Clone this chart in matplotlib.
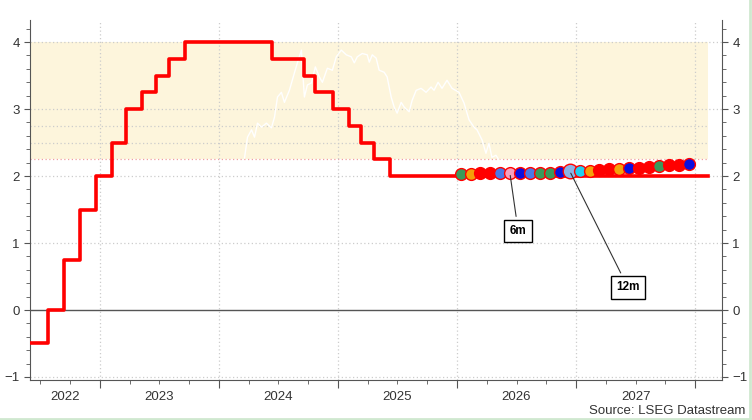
import numpy as np
import pandas as pd
import matplotlib
matplotlib.use("Agg")
import matplotlib.pyplot as plt
from matplotlib.ticker import MultipleLocator, FixedLocator, NullFormatter
from matplotlib.lines import Line2D

plt.rcParams['font.family'] = ['Liberation Sans', 'DejaVu Sans']

# ECB deposit rate decisions
rate_dates = ["2022-05-31", "2022-07-27", "2022-09-14", "2022-11-02", "2022-12-21",
              "2023-02-08", "2023-03-22", "2023-05-10", "2023-06-21", "2023-08-02",
              "2023-09-20", "2024-06-12", "2024-09-18", "2024-10-23", "2024-12-18",
              "2025-02-05", "2025-03-12", "2025-04-23", "2025-06-11", "2028-02-10"]
rate_values = [-0.5, 0.0, 0.75, 1.5, 2.0, 2.5, 3.0, 3.25, 3.5, 3.75,
               4.0, 3.75, 3.5, 3.25, 3.0, 2.75, 2.5, 2.25, 2.0, 2.0]

# thin white market series (decimal years)
mkt_x = [2024.215, 2024.240, 2024.274, 2024.299, 2024.324, 2024.358, 2024.399, 2024.441,
         2024.467, 2024.492, 2024.525, 2024.550, 2024.592, 2024.634, 2024.659, 2024.693,
         2024.701, 2024.718, 2024.743, 2024.777, 2024.810, 2024.844, 2024.869, 2024.911,
         2024.953, 2024.986, 2025.028, 2025.070, 2025.112, 2025.137, 2025.162, 2025.204,
         2025.246, 2025.263, 2025.288, 2025.321, 2025.346, 2025.388, 2025.413, 2025.447,
         2025.472, 2025.497, 2025.531, 2025.556, 2025.598, 2025.623, 2025.657, 2025.698,
         2025.740, 2025.782, 2025.807, 2025.841, 2025.874, 2025.916, 2025.958, 2026.017,
         2026.059, 2026.101, 2026.143, 2026.168, 2026.210, 2026.243, 2026.268, 2026.293,
         2026.327, 2026.352, 2026.436, 2026.562, 2026.730, 2026.897, 2027.106, 2027.232,
         2027.316]
mkt_y = [2.27, 2.58, 2.69, 2.58, 2.79, 2.73, 2.79, 2.72,
         2.88, 3.18, 3.25, 3.10, 3.28, 3.54, 3.69, 3.88,
         3.63, 3.18, 3.36, 3.39, 3.63, 3.48, 3.40, 3.61,
         3.58, 3.78, 3.88, 3.81, 3.78, 3.69, 3.78, 3.83,
         3.81, 3.70, 3.81, 3.76, 3.58, 3.55, 3.48, 3.18,
         3.03, 2.94, 3.10, 3.03, 2.96, 3.13, 3.28, 3.31,
         3.25, 3.33, 3.28, 3.40, 3.31, 3.43, 3.31, 3.25,
         3.09, 2.84, 2.73, 2.69, 2.54, 2.34, 2.49, 2.28,
         2.31, 2.24, 2.15, 2.05, 2.02, 2.00, 2.00, 1.99,
         2.02]

# market implied rate per month
dot_dates = ["2026-01-12", "2026-02-12", "2026-03-12", "2026-04-12", "2026-05-12", "2026-06-12",
             "2026-07-12", "2026-08-12", "2026-09-12", "2026-10-12", "2026-11-12", "2026-12-12",
             "2027-01-12", "2027-02-12", "2027-03-12", "2027-04-12", "2027-05-12", "2027-06-12",
             "2027-07-12", "2027-08-12", "2027-09-12", "2027-10-12", "2027-11-12", "2027-12-12"]
dot_values = [2.03, 2.03, 2.04, 2.05, 2.05, 2.05, 2.04, 2.04, 2.04, 2.05, 2.055, 2.08,
              2.08, 2.08, 2.09, 2.10, 2.10, 2.115, 2.125, 2.14, 2.15, 2.16, 2.165, 2.18]
dot_colors = ["#3a9a5b", "#f5a00a", "#ff0000", "#ff0000", "#4a78e8", "#f4a0c0",
              "#0a10e0", "#4a78e8", "#3a9a5b", "#3a9a5b", "#0a10e0", "#8ab4e8",
              "#20d0f0", "#f5a00a", "#ff0000", "#ff0000", "#f5a00a", "#0a10e0",
              "#ff0000", "#ff0000", "#3a9a5b", "#ff0000", "#ff0000", "#0a10e0"]

band_lo, band_hi = 2.25, 4.0
band_end = "2028-02-10"
years = [2022, 2023, 2024, 2025, 2026, 2027]


def dec_year(s):
    ts = pd.Timestamp(s)
    ndays = 366 if ts.is_leap_year else 365
    return ts.year + (ts.dayofyear - 1) / ndays


rx = [dec_year(d) for d in rate_dates]
dx = [dec_year(d) for d in dot_dates]
bx = dec_year(band_end)
x0, x1 = 2022.413, 2028.226

fig = plt.figure(figsize=(7.52, 4.20), dpi=100)
ax = fig.add_axes([30 / 752, 1 - 380 / 420, 692 / 752, 360 / 420])
ax.set_xlim(x0, x1)
ax.set_ylim(-1.045, 4.33)

# shaded band and its grid lines
ax.fill_between([x0, bx], band_lo, band_hi, color="#fdf5dc", lw=0, zorder=0)
for lvl in [2.5, 2.75]:
    ax.plot([x0, bx], [lvl, lvl], color="#cccccc", lw=0.9, ls=(0, (1, 2)), zorder=1)
ax.plot([x0, bx], [band_lo, band_lo], color="#f0a0a0", lw=0.9, ls=(0, (1, 2)), zorder=1)

# grid
for lvl in [-1, 1, 2, 3, 4]:
    ax.axhline(lvl, color="#cccccc", lw=0.9, ls=(0, (1, 2)), zorder=1)
for yr in years[1:] + [2028]:
    ax.axvline(yr, color="#cccccc", lw=0.9, ls=(0, (1, 2)), zorder=1)
ax.axhline(0, color="#555555", lw=1.0, zorder=2)

ax.plot(mkt_x, mkt_y, color="white", lw=1.0, zorder=3)
ax.step(rx, rate_values, where="post", color="#ff0000", lw=2.6, zorder=4)

# dots
for i, (x, y, c) in enumerate(zip(dx, dot_values, dot_colors)):
    size = 10.5 if i == 11 else 8.5
    ax.plot(x, y, "o", ms=size, mfc=c, mec="#ff0000", mew=1.0, zorder=5)

box = dict(boxstyle="square,pad=0.45", fc="white", ec="black", lw=1)
arrow = dict(arrowstyle="-", color="#333333", lw=0.8)
ax.annotate("6m", xy=(dx[5], dot_values[5]), xytext=(dx[5] + 0.07, 1.18),
            ha="center", va="center", fontsize=8.5, fontweight="bold", bbox=box,
            arrowprops=arrow, zorder=6)
ax.annotate("12m", xy=(dx[11], dot_values[11]), xytext=(dx[11] + 0.49, 0.34),
            ha="center", va="center", fontsize=8.5, fontweight="bold", bbox=box,
            arrowprops=arrow, zorder=6)

# spines
for side in ["top", "right"]:
    ax.spines[side].set_visible(False)
for side in ["left", "right", "bottom"]:
    ax.spines[side].set_color("#555555")
ax.spines["right"].set_visible(True)

# y ticks on both sides
ax.yaxis.set_major_locator(MultipleLocator(1))
ax.yaxis.set_minor_locator(MultipleLocator(0.2))
ax.tick_params(axis="y", which="both", left=True, right=True, labelleft=True,
               labelright=True, direction="out", colors="#555555", labelcolor="#333333",
               labelsize=9.5)
ax.tick_params(axis="y", which="major", length=4)
ax.tick_params(axis="y", which="minor", length=3)

# x ticks: year boundaries major, quarters minor, labels mid year
ax.xaxis.set_major_locator(FixedLocator([2022.0 + i for i in range(7)]))
qt = [y + q for y in range(2022, 2029) for q in (0.25, 0.5, 0.75)]
ax.xaxis.set_minor_locator(FixedLocator(qt))
ax.xaxis.set_major_formatter(NullFormatter())
ax.tick_params(axis="x", which="major", length=6, colors="#555555")
ax.tick_params(axis="x", which="minor", length=3, colors="#555555")
for yr in years:
    xc = (max(yr, x0) + min(yr + 1, x1)) / 2
    ax.text(xc, -0.03, str(yr), transform=ax.get_xaxis_transform(), ha="center",
            va="top", fontsize=9.5, color="#333333")

fig.text(745 / 752, 1 - 411 / 420, "Source: LSEG Datastream", ha="right", va="center",
         fontsize=9.5, color="#333333")

# light green frame on bottom and right
fig.add_artist(Line2D([0, 1], [0.002, 0.002], transform=fig.transFigure, color="#cfe8cf", lw=2))
fig.add_artist(Line2D([0.998, 0.998], [0, 1], transform=fig.transFigure, color="#cfe8cf", lw=2))

fig.savefig("out.png", dpi=100)
